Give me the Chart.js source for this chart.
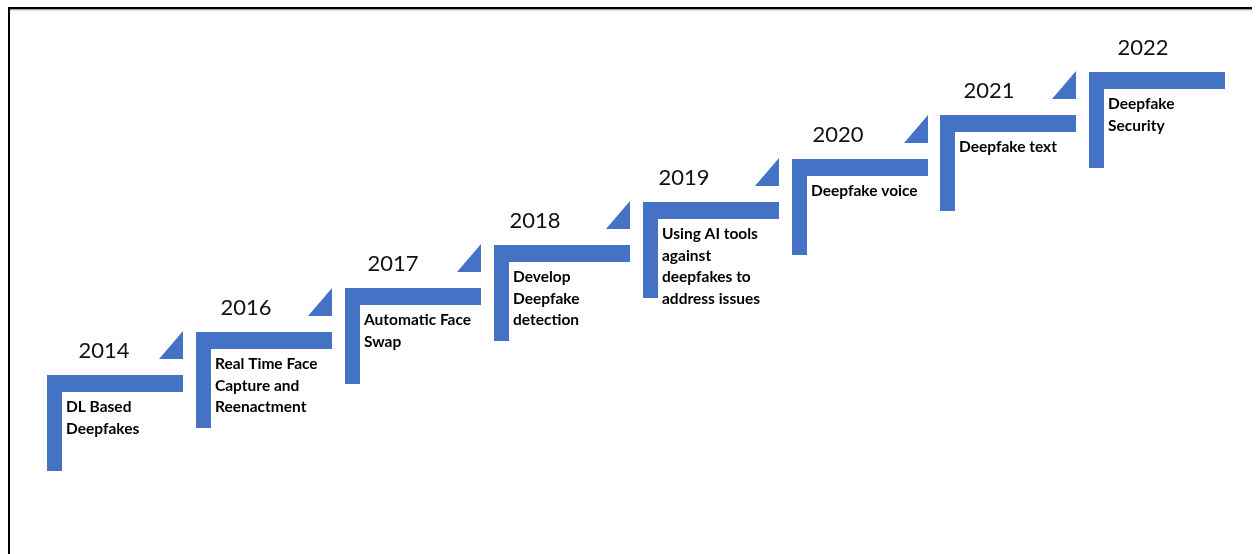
<!DOCTYPE html>
<html>
<head>
<meta charset="utf-8">
<script src="https://cdn.jsdelivr.net/npm/chart.js@4/dist/chart.umd.min.js"></script>
<style>
  html, body { margin: 0; padding: 0; background: #fff; }
  #wrap { width: 1257px; height: 554px; position: relative; }
</style>
</head>
<body>
<div id="wrap"><canvas id="timeline"></canvas></div>
<script>
"use strict"

// timeline data
var years = ['2014', '2016', '2017', '2018', '2019', '2020', '2021', '2022'];
var stepLevel = [0, 1, 2, 3, 4, 5, 6, 7];
var milestones = [
    ['DL Based', 'Deepfakes'],
    ['Real Time Face', 'Capture and', 'Reenactment'],
    ['Automatic Face', 'Swap'],
    ['Develop', 'Deepfake', 'detection'],
    ['Using AI tools', 'against', 'deepfakes to', 'address issues'],
    ['Deepfake voice'],
    ['Deepfake text'],
    ['Deepfake', 'Security']
];

// layout: small shift of each year label (px from step's left edge)
var yearLabelShift = [57, 50, 48, 41, 41, 46, 49, 54];

var stepStyle = {
    color: '#4472C4',
    barLength: 136,
    barThick: 17,
    postWidth: 15,
    postLength: 96,
    triW: 24,
    triH: 28,
    triGap: 16,
    textFont: "bold 15.5px Lato",
    textColor: '#000000',
    lineHeight: 21.5,
    yearFont: "22px Lato",
    yearColor: '#111111'
};

var stepsPlugin = {
    id: 'steps',
    beforeDraw: function (chart) {
        var ctx = chart.ctx;
        ctx.save();
        ctx.fillStyle = '#ffffff';
        ctx.fillRect(0, 0, chart.width, chart.height);
        // frame
        ctx.fillStyle = '#000000';
        ctx.fillRect(8, 7, 1244, 2.5);
        ctx.fillRect(8, 7, 2, chart.height);
        ctx.fillStyle = '#c8c8c8';
        ctx.fillRect(10, 9.5, 1242, 1);
        ctx.restore();
    },
    afterDatasetsDraw: function (chart) {
        var ctx = chart.ctx;
        var s = stepStyle;
        var meta = chart.getDatasetMeta(0);
        ctx.save();
        meta.data.forEach(function (pt, i) {
            var x = Math.round(pt.x);
            var y = Math.round(pt.y);
            ctx.fillStyle = s.color;
            // top bar and post of the L
            ctx.fillRect(x, y, s.barLength, s.barThick);
            ctx.fillRect(x, y, s.postWidth, s.postLength);
            // small triangle pointing to next step
            if (i < meta.data.length - 1) {
                var rx = x + s.barLength;
                var by = y - s.triGap;
                ctx.beginPath();
                ctx.moveTo(rx, by);
                ctx.lineTo(rx, by - s.triH);
                ctx.lineTo(rx - s.triW, by);
                ctx.closePath();
                ctx.fill();
            }
            // year label
            ctx.fillStyle = s.yearColor;
            ctx.font = s.yearFont;
            ctx.textAlign = 'center';
            ctx.textBaseline = 'alphabetic';
            ctx.fillText(years[i], x + yearLabelShift[i], y - 17);
            // description
            ctx.fillStyle = s.textColor;
            ctx.font = s.textFont;
            ctx.textAlign = 'left';
            milestones[i].forEach(function (line, k) {
                ctx.fillText(line, x + 19, y + 37 + k * s.lineHeight);
            });
        });
        ctx.restore();
    }
};

var points = stepLevel.map(function (lv, i) {
    return { x: i, y: lv };
});

var config = {
    type: 'scatter',
    data: {
        datasets: [{
            label: 'milestones',
            data: points,
            pointRadius: 0,
            pointHoverRadius: 0,
            showLine: false
        }]
    },
    options: {
        responsive: true,
        maintainAspectRatio: false,
        animation: false,
        layout: { padding: 0 },
        events: [],
        scales: {
            x: { type: 'linear', display: false, min: -0.3157, max: 8.126 },
            y: { type: 'linear', display: false, min: -4.134, max: 8.661 }
        },
        plugins: {
            legend: { display: false },
            tooltip: { enabled: false },
            title: { display: false }
        }
    },
    plugins: [stepsPlugin]
};

document.fonts.load("bold 15.5px Lato").then(function () {
    return document.fonts.load("22px Lato");
}).catch(function (e) { console.log(e); }).then(function () {
    var myChart = new Chart(document.getElementById('timeline'), config);
});
</script>
</body>
</html>
